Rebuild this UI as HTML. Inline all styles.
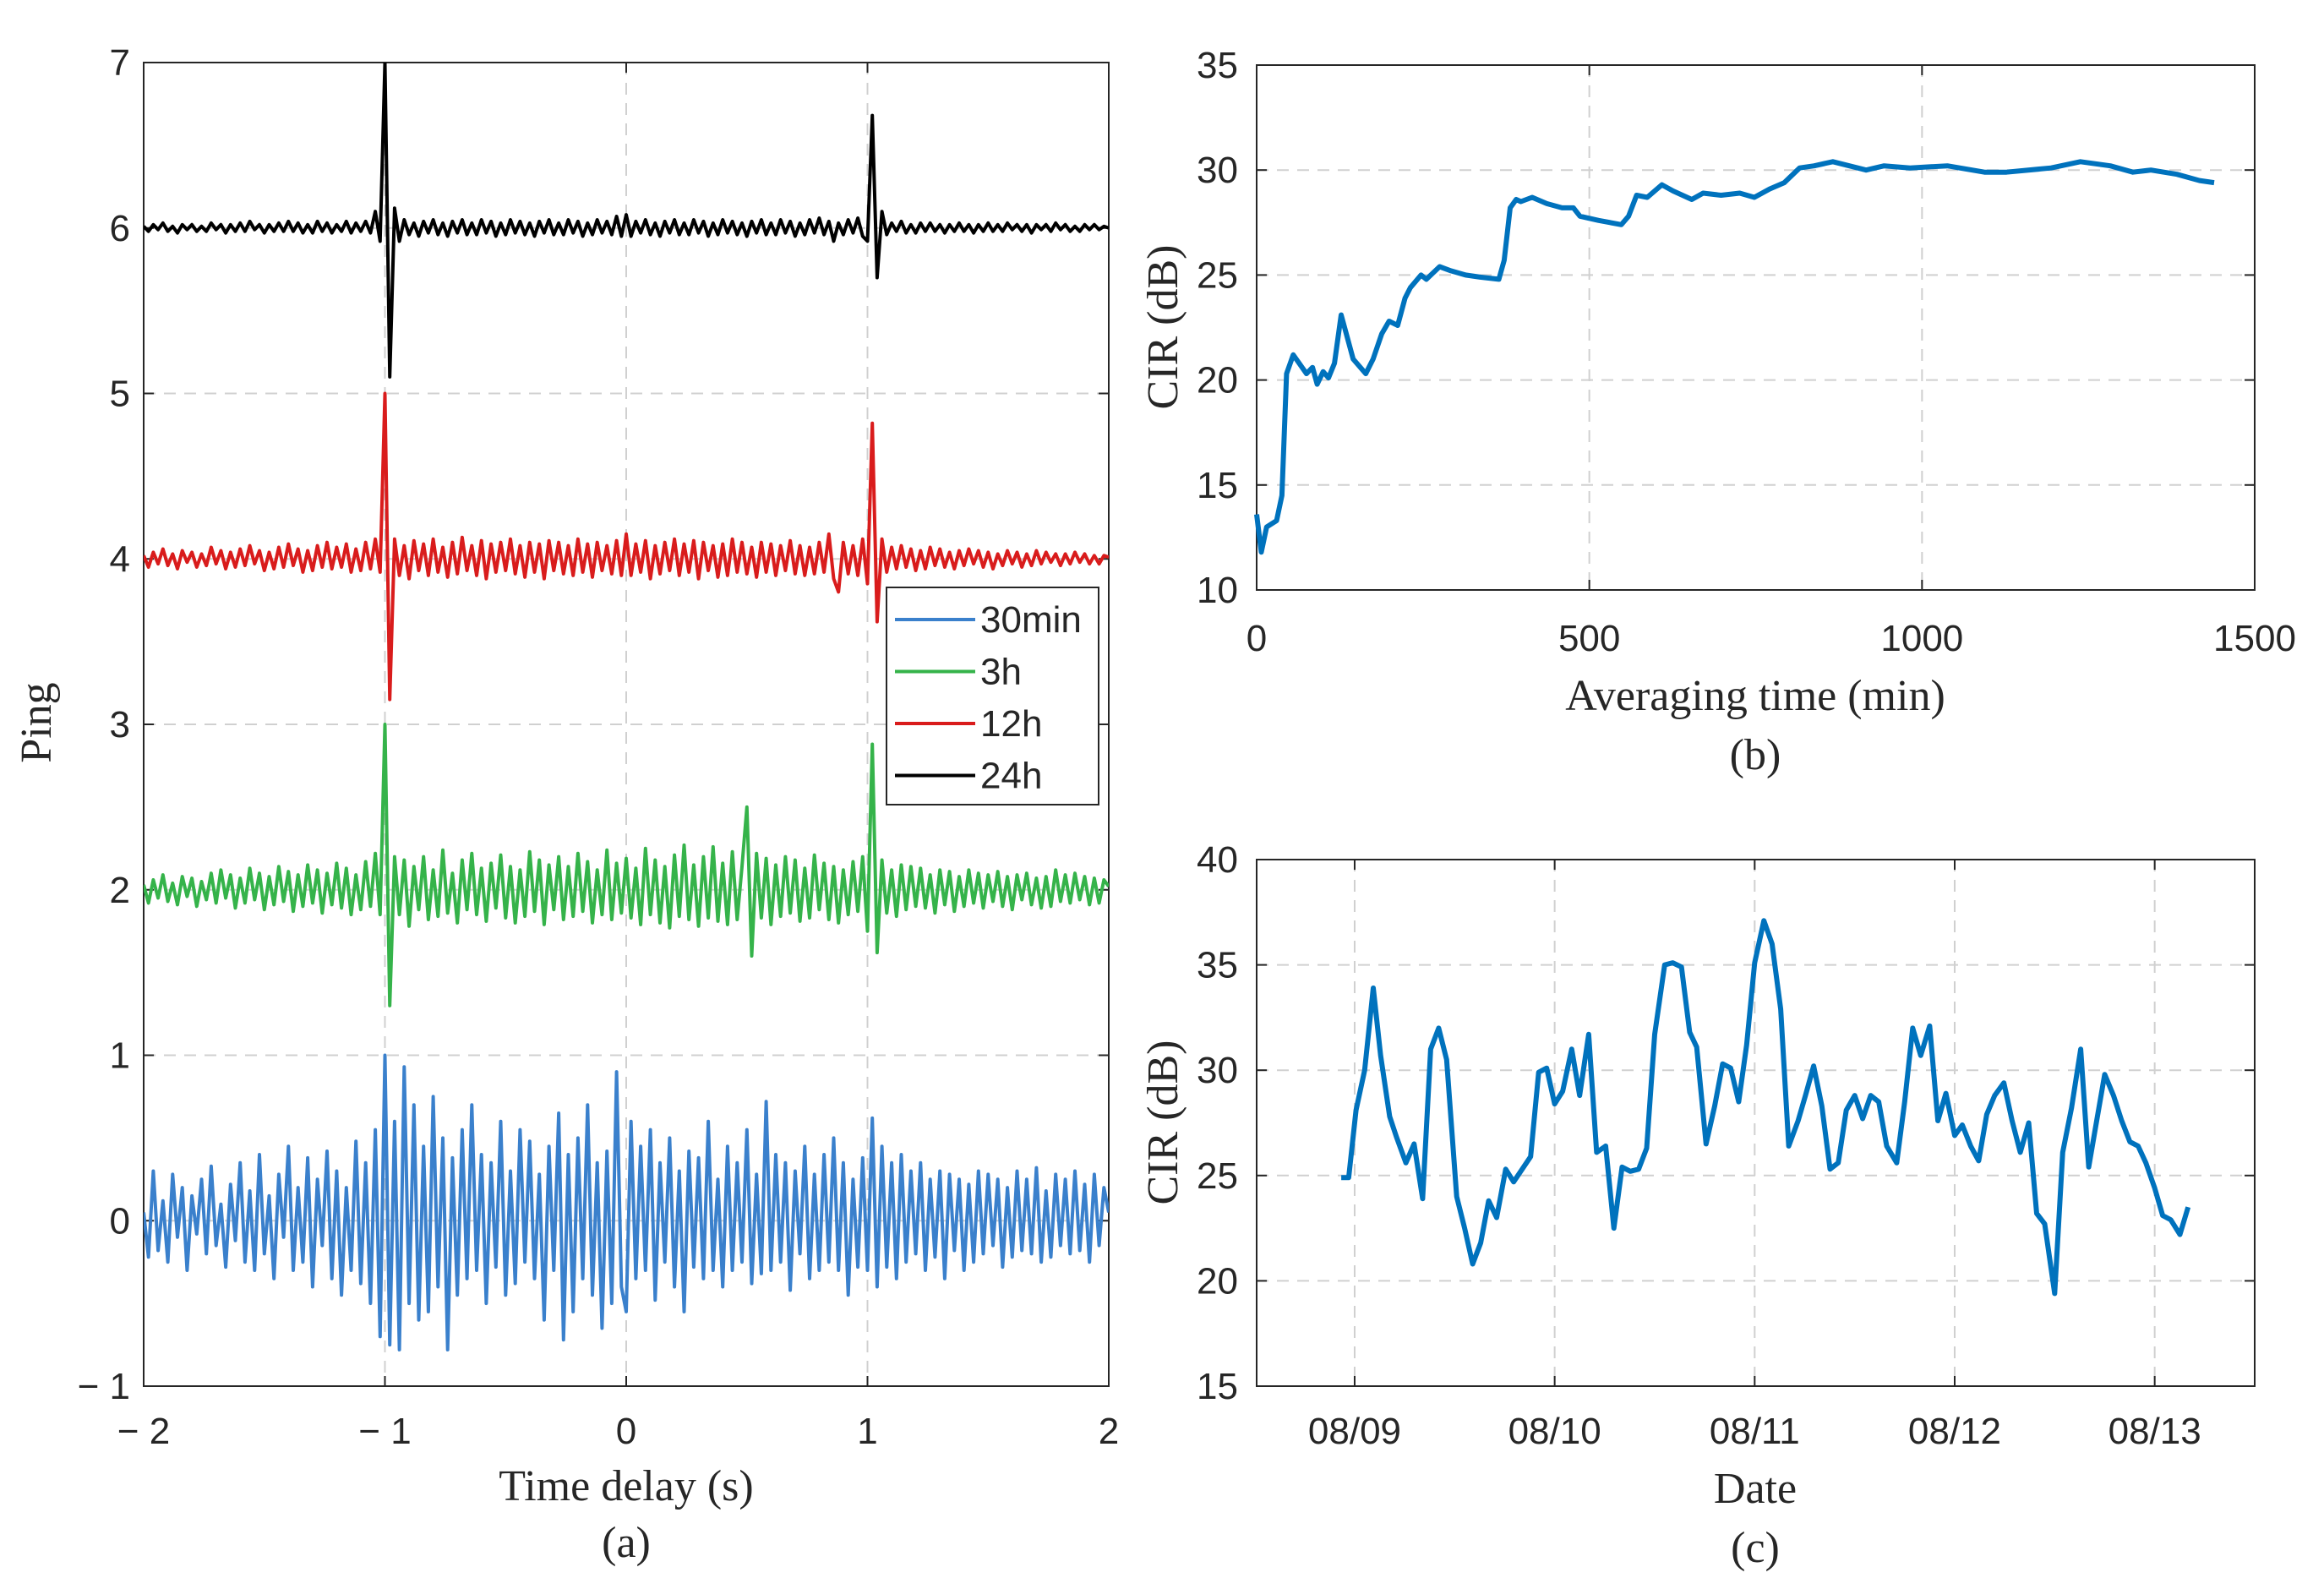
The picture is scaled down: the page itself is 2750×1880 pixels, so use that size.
<!DOCTYPE html>
<html><head><meta charset="utf-8"><style>
html,body{margin:0;padding:0;background:#fff;}
svg{display:block;}
.tk{font-family:"Liberation Sans",sans-serif;font-size:44px;fill:#262626;}
.lb{font-family:"Liberation Serif",serif;font-size:52px;fill:#262626;}
.grid{stroke:#d0d0d0;stroke-width:2;stroke-dasharray:14 10;}
</style></head><body>
<svg id="fig" width="2750" height="1880" viewBox="0 0 2750 1880" xmlns="http://www.w3.org/2000/svg"></svg>
<script>
// Panel (a) data: offsets in 0.01 units, 201 samples each from -2 to 2 s
const aXTicks=[-2,-1,0,1,2];
const aXTickLabels=["\u2212 2","\u2212 1","0","1","2"];
const aYTicks=[-1,0,1,2,3,4,5,6,7];
const aYTickLabels=["\u2212 1","0","1","2","3","4","5","6","7"];
const seriesNames=["30min","3h","12h","24h"];
const seriesOffsets=[0,2,4,6];
const blue=[5,-22,30,-18,12,-25,28,-10,20,-30,15,-8,25,-20,33,-15,10,-28,22,-12,35,-25,18,-30,40,-20,15,-35,28,-10,45,-30,20,-25,38,-40,25,-15,42,-35,30,-45,20,-30,48,-38,35,-50,55,-70,
100,-75,60,-78,93,-50,70,-60,45,-55,75,-40,50,-78,38,-45,55,-35,70,-30,40,-50,35,-28,60,-45,30,-38,55,-25,48,-35,28,-60,45,-30,65,-72,40,-55,50,-35,70,-45,35,-65,42,-50,90,-40,
-55,60,-35,45,-30,55,-48,35,-25,50,-40,30,-55,42,-28,38,-35,60,-30,25,-40,45,-30,35,-25,55,-38,28,-32,72,-30,40,-25,35,-42,30,-20,45,-35,28,-30,40,-25,50,-30,35,-45,25,-28,38,
-30,62,-40,45,-28,35,-35,40,-25,30,-20,35,-30,25,-22,30,-35,28,-18,25,-30,22,-25,30,-20,28,-15,25,-28,20,-22,30,-18,25,-20,32,-25,18,-22,28,-15,25,-20,30,-18,22,-25,28,-15,20,5];
const green=[3,-8,6,-5,9,-7,4,-9,8,-4,7,-10,5,-6,10,-8,12,-5,9,-11,7,-8,13,-6,10,-12,8,-9,14,-7,11,-13,9,-10,15,-8,12,-14,10,-9,16,-11,13,-15,9,-12,17,-10,22,-15,
100,-70,20,-15,18,-22,14,-12,20,-18,12,-16,24,-14,10,-20,18,-12,22,-15,13,-19,16,-11,21,-17,14,-20,12,-16,23,-13,18,-21,15,-12,20,-18,14,-16,22,-13,17,-20,12,-15,24,-18,16,-14,
19,-17,13,-21,25,-15,18,-20,14,-23,21,-16,27,-18,15,-22,20,-17,26,-19,16,-21,23,-18,14,50,-40,22,-17,19,-21,15,-16,20,-14,18,-19,13,-17,21,-12,16,-18,14,-20,12,-15,17,-13,20,
-25,88,-38,18,-14,12,-16,15,-12,14,-10,13,-11,9,-14,12,-9,11,-13,8,-10,12,-8,10,-11,9,-7,11,-10,8,-12,9,-6,10,-9,7,-11,8,-10,12,-7,9,-8,10,-6,8,-9,7,-8,6,2];
const red=[2,-5,4,-3,6,-4,3,-6,5,-2,4,-5,3,-4,7,-3,5,-6,4,-5,6,-4,8,-3,5,-7,4,-6,7,-5,9,-4,6,-8,5,-7,8,-5,10,-6,7,-5,9,-8,6,-7,10,-6,12,-8,
100,-85,12,-10,8,-12,11,-7,9,-10,12,-8,7,-11,10,-9,13,-7,8,-10,11,-12,9,-8,10,-7,12,-9,8,-11,10,-8,9,-12,11,-7,10,-9,8,-10,12,-8,9,-11,10,-7,8,-9,11,-10,
15,-10,9,-8,11,-12,8,-9,10,-7,12,-10,9,-8,11,-12,10,-7,8,-11,9,-10,12,-8,10,-9,7,-11,10,-8,9,-10,8,-7,11,-9,8,-10,7,-9,10,-8,15,-12,-20,10,-9,8,-10,12,
-15,82,-38,12,-8,7,-6,8,-5,6,-7,5,-6,7,-4,6,-5,4,-6,5,-4,6,-3,5,-5,4,-6,3,-4,5,-3,4,-5,3,-4,5,-3,4,-2,3,-4,3,-3,4,-2,3,-3,2,-3,2,1];
const black=[1,-2,2,-1,3,-2,1,-3,2,-1,2,-2,1,-2,3,-1,2,-3,2,-2,3,-2,4,-1,2,-3,2,-2,3,-2,4,-2,3,-3,2,-3,4,-2,3,-3,2,-2,4,-3,3,-2,4,-3,10,-8,
100,-90,12,-8,5,-4,3,-5,4,-3,5,-4,3,-5,4,-3,5,-4,3,-4,5,-3,4,-5,3,-4,5,-3,4,-4,3,-5,4,-3,5,-4,3,-4,5,-3,4,-5,3,-4,5,-3,4,-4,7,-5,
8,-5,4,-3,5,-4,3,-5,4,-3,5,-4,3,-4,5,-3,4,-5,3,-4,5,-3,4,-4,3,-5,4,-3,5,-4,3,-4,5,-3,4,-5,3,-4,5,-3,6,-4,4,-8,3,-4,5,-3,6,-5,
-8,68,-30,10,-4,3,-2,4,-3,2,-3,3,-2,3,-2,2,-3,2,-2,3,-2,2,-3,2,-2,3,-2,2,-2,3,-1,2,-2,2,-3,2,-1,2,-2,3,-1,2,-2,1,-2,2,-1,2,-1,1,0];

// Panel (b) data
const bXTicks=[0,500,1000,1500];
const bYTicks=[10,15,20,25,30,35];
const bTime=[0,7,15,30,38,45,55,75,84,91,100,108,117,127,145,164,175,188,199,212,223,231,247,255,275,292,314,336,364,372,381,390,397,414,436,459,476,486,514,548,559,571,587,609,626,654,671,698,726,748,771,793,816,838,866,916,943,982,1038,1094,1127,1194,1238,1283,1317,1344,1383,1417,1439];
const bCIR=[13.6,11.8,13.0,13.3,14.5,20.3,21.2,20.3,20.6,19.8,20.4,20.1,20.8,23.1,21.0,20.3,21.0,22.2,22.8,22.6,23.9,24.4,25.0,24.8,25.4,25.2,25.0,24.9,24.8,25.7,28.2,28.6,28.5,28.7,28.4,28.2,28.2,27.8,27.6,27.4,27.8,28.8,28.7,29.3,29.0,28.6,28.9,28.8,28.9,28.7,29.1,29.4,30.1,30.2,30.4,30.0,30.2,30.1,30.2,29.9,29.9,30.1,30.4,30.2,29.9,30.0,29.8,29.5,29.4];

// Panel (c) data: days since 08/09 00:00
const cXTicks=[0,1,2,3,4];
const cXTickLabels=["08/09","08/10","08/11","08/12","08/13"];
const cYTicks=[15,20,25,30,35,40];
const cDay=[-0.067,-0.03,0.007,0.05,0.093,0.13,0.175,0.21,0.256,0.297,0.34,0.38,0.42,0.46,0.51,0.55,0.59,0.63,0.67,0.71,0.755,0.795,0.88,0.92,0.96,1.0,1.04,1.085,1.125,1.17,1.21,1.255,1.296,1.337,1.378,1.42,1.46,1.5,1.55,1.59,1.634,1.675,1.71,1.757,1.8,1.84,1.88,1.92,1.96,2.0,2.046,2.087,2.13,2.17,2.217,2.254,2.295,2.336,2.377,2.418,2.458,2.5,2.54,2.58,2.62,2.66,2.71,2.75,2.79,2.83,2.875,2.916,2.956,3.0,3.038,3.08,3.12,3.16,3.2,3.246,3.287,3.328,3.37,3.41,3.45,3.5,3.54,3.584,3.63,3.67,3.71,3.75,3.794,3.835,3.876,3.917,3.956,4.0,4.04,4.08,4.126,4.167];
const cCIR=[24.9,24.9,28.1,30.0,33.9,30.7,27.8,26.8,25.6,26.5,23.9,31.0,32.0,30.5,24.0,22.5,20.8,21.8,23.8,23.0,25.3,24.7,25.9,29.9,30.1,28.4,29.0,31.0,28.8,31.7,26.1,26.4,22.5,25.4,25.2,25.3,26.3,31.7,35.0,35.1,34.9,31.8,31.1,26.5,28.3,30.3,30.1,28.5,31.2,35.1,37.1,36.0,32.9,26.4,27.6,28.8,30.2,28.3,25.3,25.6,28.1,28.8,27.7,28.8,28.5,26.4,25.6,28.5,32.0,30.7,32.1,27.6,28.9,26.9,27.4,26.4,25.7,27.9,28.8,29.4,27.6,26.1,27.5,23.2,22.7,19.4,26.1,28.2,31.0,25.4,27.6,29.8,28.8,27.6,26.6,26.4,25.6,24.4,23.1,22.9,22.2,23.5];

const NS="http://www.w3.org/2000/svg";
const svg=document.getElementById('fig');
function mk(tag,attrs,parent,text){const e=document.createElementNS(NS,tag);for(const k in attrs)e.setAttribute(k,attrs[k]);if(text!==undefined)e.textContent=text;(parent||svg).appendChild(e);return e;}
function scale(d0,d1,r0,r1){return v=>r0+(v-d0)*(r1-r0)/(d1-d0);}

function axes(name,L,R,T,B,sx,sy,xt,xl,yt,yl,yLabelX,xLabY){
  const g=mk('g',{});
  
  
  xt.forEach((v,i)=>{const x=sx(v);
    if(x>L+2&&x<R-2){const l=mk('line',{x1:x,x2:x,y1:T,y2:B,class:'grid'},g);}
    mk('line',{x1:x,x2:x,y1:B,y2:B-12,stroke:'#262626','stroke-width':2},g);
    mk('line',{x1:x,x2:x,y1:T,y2:T+12,stroke:'#262626','stroke-width':2},g);
    const t=mk('text',{x:x,y:xLabY,'text-anchor':'middle',class:'tk'},g,xl[i]);
    });
  yt.forEach((v,i)=>{const y=sy(v);
    if(y>T+2&&y<B-2){const l=mk('line',{x1:L,x2:R,y1:y,y2:y,class:'grid'},g);}
    mk('line',{x1:L,x2:L+12,y1:y,y2:y,stroke:'#262626','stroke-width':2},g);
    mk('line',{x1:R,x2:R-12,y1:y,y2:y,stroke:'#262626','stroke-width':2},g);
    const t=mk('text',{x:yLabelX,y:y+15,'text-anchor':'end',class:'tk'},g,yl[i]);
    });
  const r=mk('rect',{x:L,y:T,width:R-L,height:B-T,fill:'none',stroke:'#262626','stroke-width':2},g);
  
  return g;
}
function path(xs,ys,sx,sy,color,w,name){
  const d=xs.map((x,i)=>(i?'L':'M')+sx(x).toFixed(1)+' '+sy(ys[i]).toFixed(1)).join(' ');
  const p=mk('path',{d:d,fill:'none',stroke:color,'stroke-width':w,'stroke-linejoin':'round'});
  
  return p;
}
function label(txt,x,y,rot,name){
  const t=mk('text',{x:x,y:y,'text-anchor':'middle',class:'lb',transform:rot?`rotate(-90 ${x} ${y})`:''},svg,txt);
  
}

// Panel a
{const L=170,R=1312,T=74,B=1640;
 const sx=scale(-2,2,L,R),sy=scale(-1,7,B,T);
 axes('panel-a',L,R,T,B,sx,sy,aXTicks,aXTickLabels,aYTicks,aYTickLabels,154,1708);
 const data=[blue,green,red,black],cols=['#3a80cc','#35b34a','#d91c1c','#000000'];
 const clip=mk('clipPath',{id:'ca'});mk('rect',{x:L,y:T,width:R-L,height:B-T},clip);
 const g=mk('g',{'clip-path':'url(#ca)'});
 data.forEach((arr,s)=>{
   const n=arr.length;const xs=arr.map((_,i)=>-2+4*i/(n-1));const ys=arr.map(v=>seriesOffsets[s]+v/100);
   g.appendChild(path(xs,ys,sx,sy,cols[s],4,'series-'+seriesNames[s]));});
 const lg=mk('g',{});
 mk('rect',{x:1049,y:695,width:251,height:257,fill:'#fff',stroke:'#262626','stroke-width':2},lg);
 seriesNames.forEach((nm,i)=>{const y=733+i*61.5;
   const e=mk('g',{},lg);
   mk('line',{x1:1059,x2:1154,y1:y,y2:y,stroke:cols[i],'stroke-width':4},e);
   mk('text',{x:1160,y:y+15,class:'tk'},e,nm);});
 label('Time delay (s)',741,1775,false,'panel-a-x-axis-title');
 label('(a)',741,1842,false,'panel-a-caption');
 label('Ping',60,855,true,'panel-a-y-axis-title');
}
// Panel b
{const L=1487,R=2668,T=77,B=698;
 const sx=scale(0,1500,L,R),sy=scale(10,35,B,T);
 axes('panel-b',L,R,T,B,sx,sy,bXTicks,bXTicks.map(String),bYTicks,bYTicks.map(String),1465,770);
 path(bTime,bCIR,sx,sy,'#0072bd',6,'cir-vs-averaging-line');
 label('Averaging time (min)',2077,840,false,'panel-b-x-axis-title');
 label('(b)',2077,910,false,'panel-b-caption');
 label('CIR (dB)',1393,387,true,'panel-b-y-axis-title');
}
// Panel c
{const L=1487,R=2668,T=1017,B=1640;
 const sx=scale(-0.49,4.5,L,R),sy=scale(15,40,B,T);
 axes('panel-c',L,R,T,B,sx,sy,cXTicks,cXTickLabels,cYTicks,cYTicks.map(String),1465,1708);
 path(cDay,cCIR,sx,sy,'#0072bd',6,'cir-vs-date-line');
 label('Date',2077,1778,false,'panel-c-x-axis-title');
 label('(c)',2077,1848,false,'panel-c-caption');
 label('CIR (dB)',1393,1328,true,'panel-c-y-axis-title');
}
</script>
</body></html>
